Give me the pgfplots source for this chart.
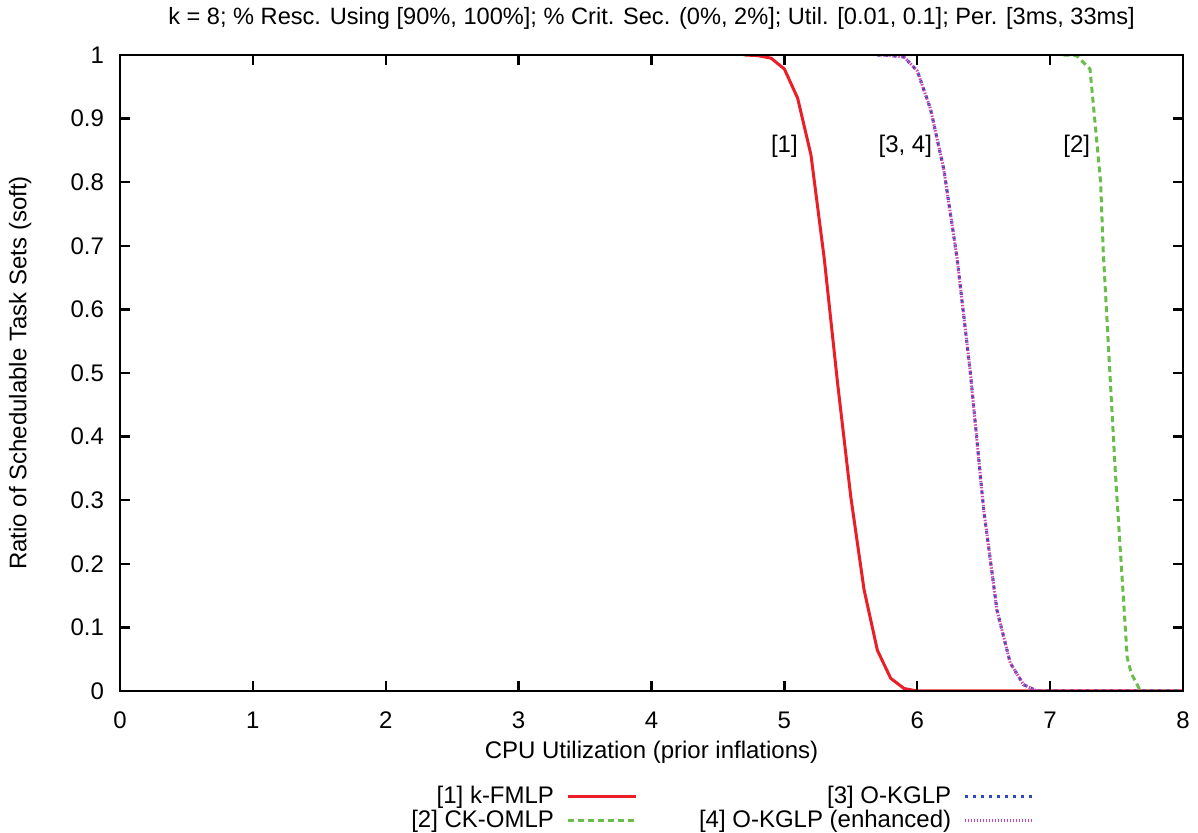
\documentclass[border=0pt]{standalone}
\usepackage{fontspec}
\setmainfont{Liberation Sans}
\usepackage{pgfplots}
\pgfplotsset{compat=1.18}
\definecolor{cred}{RGB}{235,30,40}
\definecolor{cgreen}{RGB}{105,190,75}
\definecolor{cblue}{RGB}{50,70,185}
\definecolor{cmag}{RGB}{200,70,180}
\newcommand\fs{\fontsize{12}{14}\selectfont}
\begin{document}
\begin{tikzpicture}
\path[use as bounding box] (-60pt,-71pt) rectangle (539pt,345.5pt);
\begin{axis}[
  at={(0,0)}, anchor=south west,
  scale only axis, width=531.5pt, height=318pt,
  xmin=0, xmax=8, ymin=0, ymax=1,
  xtick={0,1,...,8}, ytick={0,0.1,...,1},
  axis on top,
  /pgf/number format/assume math mode=true,
  /pgf/number format/fixed, /pgf/number format/precision=1,
  yticklabel style={xshift=-4.5pt},
  xticklabel style={yshift=-7pt},
  tick label style={font=\fs},
  every axis title/.style={font=\fontsize{11.8}{14}\selectfont, at={(axis description cs:0.5,1.058)}, anchor=center},
  every axis x label/.style={font=\fs, at={(axis description cs:0.5,-0.096)}, anchor=center},
  every axis y label/.style={font=\fs, at={(axis description cs:-0.094,0.5)}, rotate=90, anchor=center},
  axis line style={line width=1.4pt},
  major tick style={line width=1.2pt, black},
  major tick length=5pt,
  title={k = 8; \% Resc. Using [90\%, 100\%]; \% Crit. Sec. (0\%, 2\%]; Util. [0.01, 0.1]; Per. [3ms, 33ms]},
  xlabel={CPU Utilization (prior inflations)},
  ylabel={Ratio of Schedulable Task Sets (soft)},
  legend columns=2, transpose legend,
  legend plot pos=right,
  legend cell align=right,
  legend style={draw=none, fill=none, font=\fs,
    at={(axis description cs:0.866,-0.137)}, anchor=north east,
    row sep=-2.5pt,
    /tikz/every odd column/.append style={column sep=4pt},
    /tikz/every even column/.append style={column sep=29pt}},
  legend image code/.code={\draw[#1] (0pt,0pt) -- (34pt,0pt);},
]
\addplot[cred, line width=1.5pt] coordinates {
 (4.7,1) (4.8,0.999) (4.9,0.995) (5.0,0.978) (5.1,0.932) (5.2,0.843)
 (5.3,0.68) (5.4,0.485) (5.5,0.305) (5.6,0.159) (5.7,0.064) (5.8,0.02) (5.9,0.004) (6.0,0) (8,0)};
\addlegendentry{[1] k-FMLP}
\addplot[cgreen, line width=1.5pt, dash pattern=on 3pt off 2pt] coordinates {
 (7.1,1) (7.2,0.999) (7.3,0.978) (7.38,0.80) (7.40,0.69) (7.49,0.347) (7.58,0.053) (7.61,0.028) (7.68,0) (8,0)};
\addlegendentry{[2] CK-OMLP}
\addplot[cblue, line width=1.5pt, dash pattern=on 1.5pt off 2.5pt] coordinates {
 (5.7,1) (5.8,0.999) (5.9,0.997) (6.0,0.975) (6.1,0.915) (6.2,0.82) (6.3,0.68) (6.4,0.50)
 (6.5,0.285) (6.6,0.127) (6.7,0.044) (6.8,0.01) (6.9,0) (8,0)};
\addlegendentry{[3] O-KGLP}
\addplot[cmag, line width=1.5pt, dash pattern=on 0.7pt off 0.8pt] coordinates {
 (5.7,1) (5.8,0.999) (5.9,0.997) (6.0,0.975) (6.1,0.915) (6.2,0.82) (6.3,0.68) (6.4,0.50)
 (6.5,0.285) (6.6,0.127) (6.7,0.044) (6.8,0.01) (6.9,0) (8,0)};
\addlegendentry{[4] O-KGLP (enhanced)}
\node[font=\fs] at (axis cs:5.0,0.857) {[1]};
\node[font=\fs] at (axis cs:5.91,0.857) {[3, 4]};
\node[font=\fs] at (axis cs:7.2,0.857) {[2]};
\end{axis}
\end{tikzpicture}
\end{document}
